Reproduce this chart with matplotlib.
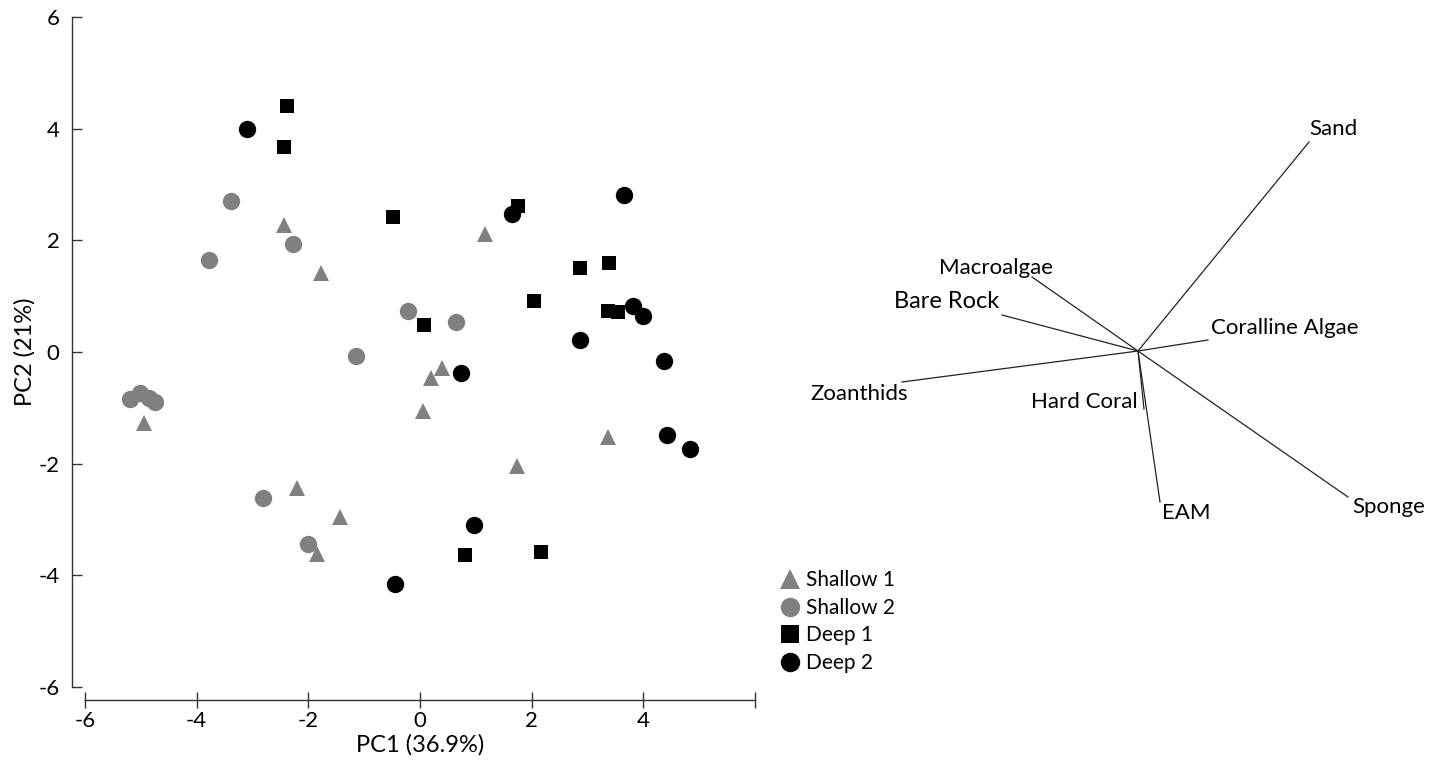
#!/usr/bin/env python

import matplotlib
matplotlib.use("Agg")
import matplotlib.pyplot as plt
from matplotlib.lines import Line2D

plt.rcParams["font.family"] = ["Lato", "DejaVu Sans"]
plt.rcParams["axes.unicode_minus"] = False

# PCA scores (PC1, PC2) per group
shallow1_x = [-2.44, -1.77, 1.17, -4.94, -2.20, -1.44, -1.85, 0.39, 0.20, 0.05, 3.36, 1.73]
shallow1_y = [2.28, 1.42, 2.11, -1.28, -2.43, -2.96, -3.61, -0.28, -0.47, -1.05, -1.53, -2.05]

shallow2_x = [-3.39, -2.28, -3.78, -0.22, -1.15, 0.64, -5.19, -5.01, -4.85, -4.75, -2.81, -2.01]
shallow2_y = [2.70, 1.94, 1.64, 0.74, -0.08, 0.53, -0.84, -0.73, -0.82, -0.90, -2.62, -3.43]

deep1_x = [-2.39, -2.44, -0.49, 1.75, 2.86, 3.38, 2.05, 3.37, 3.54, 0.08, 0.81, 2.17]
deep1_y = [4.40, 3.68, 2.41, 2.62, 1.51, 1.60, 0.91, 0.74, 0.71, 0.48, -3.64, -3.59]

deep2_x = [-3.10, 3.66, 1.64, 3.82, 3.99, 2.87, 4.37, 0.73, 4.43, 4.83, 0.96, -0.44]
deep2_y = [4.00, 2.82, 2.48, 0.82, 0.64, 0.22, -0.16, -0.37, -1.48, -1.73, -3.09, -4.16]

# loadings of benthic categories (biplot vectors)
loading_names = ["Sand", "Macroalgae", "Bare Rock", "Coralline Algae",
                 "Zoanthids", "Hard Coral", "EAM", "Sponge"]
loading_pc1 = [0.855, -0.53, -0.68, 0.35, -1.18, 0.03, 0.11, 1.05]
loading_pc2 = [1.045, 0.37, 0.18, 0.055, -0.155, -0.29, -0.755, -0.73]

W, H = 1437, 761
fig = plt.figure(figsize=(W / 100, H / 100), dpi=100)

# scatter panel
ax = fig.add_axes([85 / W, 1 - 687 / H, (755 - 85) / W, (687 - 17) / H])

grey = "#808080"
ax.plot(shallow1_x, shallow1_y, "^", color=grey, ms=11, mew=0, ls="none")
ax.plot(shallow2_x, shallow2_y, "o", color=grey, ms=12.5, mew=0, ls="none")
ax.plot(deep1_x, deep1_y, "s", color="black", ms=10.5, mew=0, ls="none")
ax.plot(deep2_x, deep2_y, "o", color="black", ms=12.5, mew=0, ls="none")

ax.set_xlim(-6, 6)
ax.set_ylim(-6, 6)
ax.set_xticks([-6, -4, -2, 0, 2, 4, 6])
ax.set_xticklabels(["-6", "-4", "-2", "0", "2", "4", ""])
ax.set_yticks([-6, -4, -2, 0, 2, 4, 6])

for s in ["top", "right"]:
    ax.spines[s].set_visible(False)
ax.spines["left"].set_position(("outward", 9.4))
ax.spines["bottom"].set_position(("outward", 9.4))
for s in ["left", "bottom"]:
    ax.spines[s].set_color("#333333")
    ax.spines[s].set_linewidth(1.0)

ax.tick_params(axis="x", direction="inout", length=11.5, width=1.0,
               color="#333333", labelsize=16, pad=2)
ax.tick_params(axis="y", direction="in", length=7, width=1.0,
               color="#333333", labelsize=16, pad=9)

ax.set_xlabel("PC1 (36.9%)", fontsize=17, labelpad=2)
ax.set_ylabel("PC2 (21%)", fontsize=17, labelpad=2)

handles = [
    Line2D([], [], marker="^", color=grey, ms=15, mew=0, ls="none"),
    Line2D([], [], marker="o", color=grey, ms=14, mew=0, ls="none"),
    Line2D([], [], marker="s", color="black", ms=12.5, mew=0, ls="none"),
    Line2D([], [], marker="o", color="black", ms=14, mew=0, ls="none"),
]
fig.legend(handles, ["Shallow 1", "Shallow 2", "Deep 1", "Deep 2"],
           loc="upper left", bbox_to_anchor=(770 / W, 1 - 560 / H),
           frameon=False, fontsize=15, handlelength=0.9,
           handletextpad=0.35, labelspacing=0.36, borderpad=0)

# biplot panel, 200 px per unit, origin at the vector hub
bx = fig.add_axes([790 / W, 0, (W - 790) / W, 1])
bx.set_xlim((790 - 1138) / 200, (W - 1138) / 200)
bx.set_ylim(-(H - 351) / 200, 351 / 200)
bx.axis("off")

label_style = {
    "Sand": dict(xytext=(0, 3), ha="left", va="bottom", fontsize=16),
    "Macroalgae": dict(xytext=(-36, 9), ha="center", va="center", fontsize=16),
    "Bare Rock": dict(xytext=(-55, 13), ha="center", va="center", fontsize=17),
    "Coralline Algae": dict(xytext=(3, 12), ha="left", va="center", fontsize=16),
    "Zoanthids": dict(xytext=(6, -12), ha="right", va="center", fontsize=16),
    "Hard Coral": dict(xytext=(-6, 7), ha="right", va="center", fontsize=16),
    "EAM": dict(xytext=(2, -11), ha="left", va="center", fontsize=16),
    "Sponge": dict(xytext=(4, -10), ha="left", va="center", fontsize=16),
}

for name, px, py in zip(loading_names, loading_pc1, loading_pc2):
    bx.plot([0, px], [0, py], color="#222222", lw=0.9)
    st = label_style[name]
    bx.annotate(name, (px, py), xytext=st["xytext"], textcoords="offset pixels",
                ha=st["ha"], va=st["va"], fontsize=st["fontsize"])

fig.savefig("out.png", dpi=100)
print("Wrote out.png")
